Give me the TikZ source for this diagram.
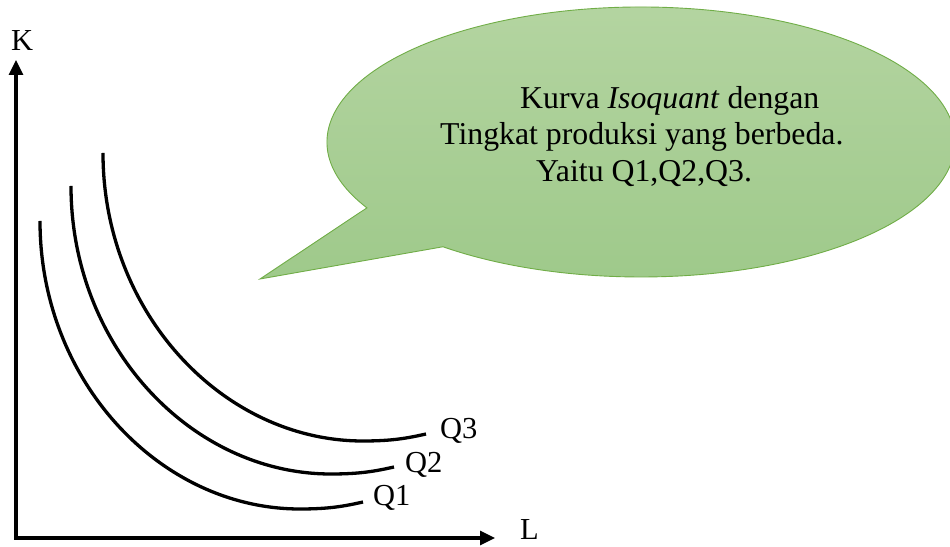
\documentclass[tikz,border=0pt]{standalone}
\usepackage{fontspec}
\setmainfont{Liberation Serif}
\usetikzlibrary{arrows.meta,calc}
\definecolor{calloutTop}{HTML}{B5D5A2}
\definecolor{calloutBot}{HTML}{9EC98A}
\definecolor{calloutLine}{HTML}{70AD47}
\tikzset{
  axisline/.style={line width=3.2pt, {Triangle[length=15pt,width=14pt]}-{Triangle[length=15pt,width=14pt]}},
  isocurve/.style={line width=3.3pt},
  lbl/.style={anchor=base west, inner sep=0pt, font=\fontsize{30.5}{36}\selectfont},
  calloutshape/.style={draw=calloutLine, line width=0.9pt, top color=calloutTop, bottom color=calloutBot},
  callouttext/.style={anchor=base west, inner sep=0pt, font=\fontsize{31.8}{36.5}\selectfont}
}
\begin{document}
\begin{tikzpicture}[x=1pt,y=1pt]
\useasboundingbox (0,0) rectangle (950,546);
% callout
\coordinate (tip) at (260,267);
\coordinate (c) at (641,404);
\path[calloutshape] (tip) -- ($(c)+(209.2:314 and 135)$) arc[start angle=209.2, end angle=-129.1, x radius=314, y radius=135] -- cycle;
\node[callouttext] (t1) at (520,437) {Kurva \textit{Isoquant} dengan};
\node[callouttext] (t2) at (440,401) {Tingkat produksi yang berbeda.};
\node[callouttext] (t3) at (536,364) {Yaitu Q1,Q2,Q3.};
% axes
\coordinate (ktip) at (16,486);
\coordinate (origin) at (16,8);
\coordinate (ltip) at (495,8);
\draw[axisline] (ktip) -- (origin) -- (ltip);
\node[lbl] (K) at (11,495) {K};
\node[lbl] (L) at (520,6) {L};
% isoquants
\foreach \dx/\dy in {0/0, 31/35, 63/68} {
  \draw[isocurve, shift={(\dx,\dy)}] (40,325) .. controls (40,165) and (160,37) .. (300,37)
     .. controls (330,37) and (345,40) .. (363,44);
}
\node[lbl] (Q1) at (373,40) {Q1};
\node[lbl] (Q2) at (405,73) {Q2};
\node[lbl] (Q3) at (440,107) {Q3};
\end{tikzpicture}
\end{document}
